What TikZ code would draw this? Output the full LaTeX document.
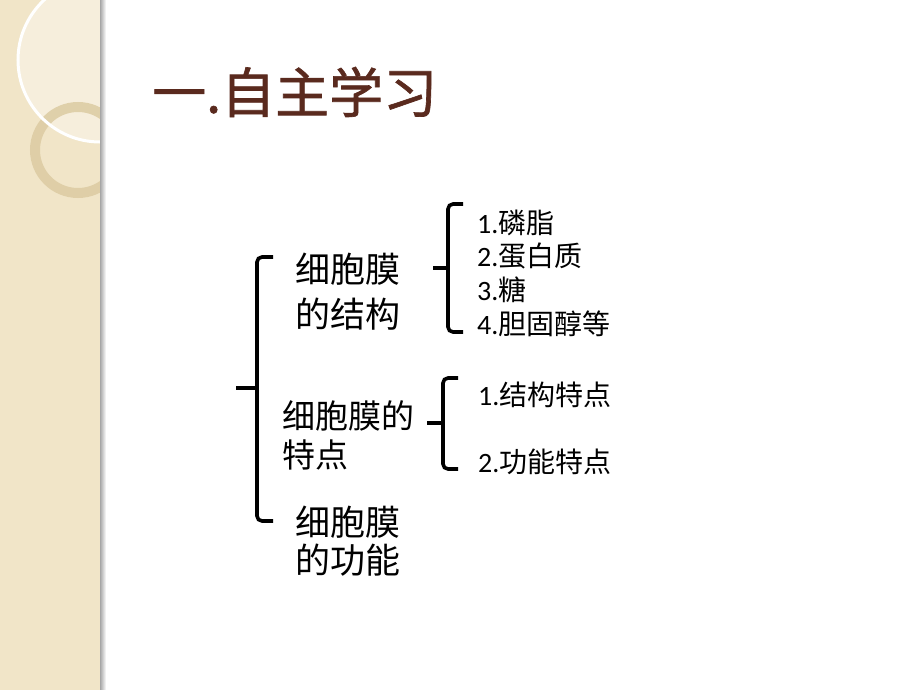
\documentclass[tikz,border=0pt]{standalone}
\usepackage{fontspec}
\setmainfont{Carlito}
\newfontfamily\cjk{Noto Sans CJK SC}
\newfontfamily\cjktitle[FakeBold=1.2]{Noto Sans CJK SC}
\usetikzlibrary{calc}
\definecolor{band}{HTML}{F1E5C8}
\definecolor{bandlight}{HTML}{F6EEDC}
\definecolor{ringtan}{HTML}{DCCBA2}
\definecolor{titlec}{HTML}{5A2A1E}
\tikzset{
  big/.style={anchor=west, inner sep=0pt, font=\cjk\fontsize{35}{35}\selectfont},
  mid/.style={anchor=west, inner sep=0pt, font=\cjk\fontsize{33}{33}\selectfont},
  small/.style={anchor=west, inner sep=0pt, font=\fontsize{28}{28}\selectfont},
  brace/.style={line width=3.6pt, rounded corners=5pt},
  tick/.style={line width=3.6pt}
}
\newcommand{\zh}[1]{{\cjk #1}}
\begin{document}
\begin{tikzpicture}[x=1pt,y=-1pt]
\useasboundingbox (0,0) rectangle (920,690);
\fill[white] (0,0) rectangle (920,690);
% left band
\fill[band] (0,0) rectangle (100,690);
\begin{scope}
\clip (0,0) rectangle (100,690);
\fill[bandlight] (100,60) circle[radius=82];
\draw[ringtan, line width=10pt, opacity=0.85] (78,150) circle[radius=43];
\draw[white, line width=3pt] (100,60) circle[radius=82];
\end{scope}
\shade[left color=gray!70, right color=white] (100,0) rectangle (106,690);
% title
\node[anchor=west, inner sep=0pt, text=titlec, font=\cjktitle\fontsize{54}{54}\selectfont] (title) at (152,92) {一.自主学习};
% main brace
\coordinate (b1t) at (273,257);
\coordinate (b1b) at (273,521);
\coordinate (b1m) at (257,388);
\coordinate (b1l) at (236,388);
\draw[brace] (b1t) -- ($(b1t)+(-16,0)$) -- ($(b1b)+(-16,0)$) -- (b1b);
\draw[tick] (b1m) -- (b1l);
% group 1
\node[big] (g1a) at (295,269) {细胞膜};
\node[big] (g1b) at (295,314) {的结构};
\coordinate (b2t) at (463,204);
\coordinate (b2b) at (463,332);
\coordinate (b2m) at (448,268);
\coordinate (b2l) at (433,268);
\draw[brace] (b2t) -- ($(b2t)+(-15,0)$) -- ($(b2b)+(-15,0)$) -- (b2b);
\draw[tick] (b2m) -- (b2l);
\node[small] (s1) at (477,223) {1.\zh{磷脂}};
\node[small] (s2) at (477,256) {2.\zh{蛋白质}};
\node[small] (s3) at (477,290) {3.\zh{糖}};
\node[small] (s4) at (477,324) {4.\zh{胆固醇等}};
% group 2
\node[mid] (g2a) at (282,416) {细胞膜的};
\node[mid] (g2b) at (282,455) {特点};
\coordinate (b3t) at (458,378);
\coordinate (b3b) at (458,469);
\coordinate (b3m) at (443,423);
\coordinate (b3l) at (427,423);
\draw[brace] (b3t) -- ($(b3t)+(-15,0)$) -- ($(b3b)+(-15,0)$) -- (b3b);
\draw[tick] (b3m) -- (b3l);
\node[small] (t1) at (478,395) {1.\zh{结构特点}};
\node[small] (t2) at (478,462) {2.\zh{功能特点}};
% group 3
\node[big] (g3a) at (295,522) {细胞膜};
\node[big] (g3b) at (295,560) {的功能};
\end{tikzpicture}
\end{document}
